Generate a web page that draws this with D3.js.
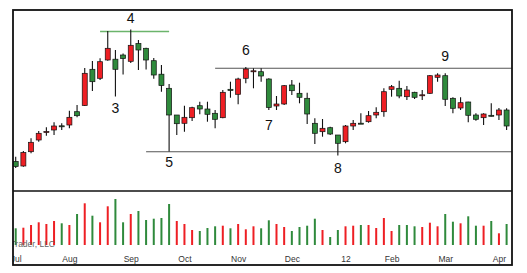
<!DOCTYPE html>
<html><head><meta charset="utf-8">
<script src="https://cdn.jsdelivr.net/npm/d3@7"></script>
<style>body{margin:0;background:#fff}svg{display:block}</style>
</head><body><svg id="c" width="527" height="273"></svg>
<script>
// ---- data (price units arbitrary) ----
const opens  = [28.5,24,38.3,50,58,60,64.2,65,78.3,84.5,120.7,111.7,130,130.8,135,128.7,146.5,141.7,129.3,115.8,101.7,75,66.7,72.3,84.3,81,76.7,72.3,100.7,95.7,111.7,118.8,118.3,111,84,86,105,96.7,91.7,66.7,58.3,62.3,55,48.3,64,66.8,68.3,75,78.3,100.7,101.7,93.3,97.7,94.8,96.7,112.7,114.3,91.7,82,88,75,72.3,74.7,75,80];
const highs  = [33.3,39,51.7,59,62.7,67.7,66.7,79.3,85,122,129,131.7,159,140,136.5,160.5,150,142.3,132,125,106,75,84.3,83.3,88.3,88.3,80,100,108.3,112.3,123,121.7,121.7,111.7,94,105,110,107.3,97.3,71.7,71,63.3,55,65,70,76.7,79,82.7,101.7,105,109.3,104,98.3,100,115,116.7,116.7,92.7,92.7,88.3,76.7,76.7,86.7,82,81.7];
const lows   = [22,23.3,36.7,48.3,54.3,55,60,61.7,72.7,84,99,110,129.3,93.5,115.5,127,120,120.5,111.2,98.3,38.5,55,58.3,69,75.7,68.3,61.7,71.7,92.3,85.7,106.7,101.7,108.3,80,80,85,95,86.7,66,46,53.3,55,34.5,46.7,60,66,67.3,71.7,73.3,93.3,91.7,90,91,90,96,108.3,84,76.7,80,67.8,69.3,65,73.5,70,60];
const closes = [23.5,37.5,47.7,56.7,58.5,64,64,72.7,74.3,116.7,108.3,128.3,141.7,120.7,131.5,144.7,140,130,115,104.5,75,66.3,72.7,82.3,81,75.7,70.7,97.7,99.5,111,121,119.2,114,82.5,86,104.3,99.3,92.7,76,56.7,61.7,56,46.7,64,66.7,66.5,74.3,77.7,98.3,103.3,94,100,92.7,95.2,114.3,115,90.7,81.7,87.3,74.7,70.7,76,74.3,80,64];
const volumes = [16.7,17.3,20,22.7,21,24,21.7,20,31,41.7,29.3,22.7,38.7,46,22.7,31,34,25,26.3,27,41,24,21,15,14,17,18.7,19.3,16.7,21,15.7,18.7,16.7,24.7,21,18,14,18,19.3,26.3,15,8,15,18.7,19.3,20,20,17,27,14,20,20,18.7,18,22.3,18.7,31,23.3,21.7,28.7,19.3,19.3,24,11.7,21];
// volume colour: 1 = red, 0 = green
const volumeRed = [0,1,1,1,1,1,0,1,0,1,0,1,1,0,0,1,0,0,0,0,0,1,1,1,0,0,0,1,0,1,1,1,0,0,1,1,0,0,0,0,1,0,0,1,1,0,1,1,1,1,0,0,0,1,1,1,0,0,1,0,0,1,0,1,0];
const tickIndex  = [0,7,15,22,29,36,43,49,56,63];
const tickLabels = ["Jul","Aug","Sep","Oct","Nov","Dec","12","Feb","Mar","Apr"];
const annotationLabels = ["3","4","5","6","7","8","9"];
const annotationBars   = [13,15,20,30,33,42,56];
const annotationPrices = [82,172,28.3,140,65,21.7,134];
// horizontal levels: [price, startBar]
const levelPrices = [158.5, 38.3, 121.7];
const levelStart  = [11, 17, 26];
const levelEnd    = [20, null, null];

// ---- drawing ----
const svg = d3.select("#c");
const L = 13, R = 512, T = 10, MID = 191, VB = 245, B = 265;
const x = d3.scaleLinear().domain([0, 64]).range([15.7, 506.6]);
const y = d3.scaleLinear().domain([0, 180]).range([190, 10]);
const yv = d3.scaleLinear().domain([0, 55]).range([VB, 190]);
const RED = "#ee1f24", GREEN = "#2f8a3c";
const n = opens.length;
const idx = d3.range(n);

svg.append("defs").append("clipPath").attr("id","clipAll")
  .append("rect").attr("x", L).attr("y", T).attr("width", R - L).attr("height", B - T);

// horizontal levels
const levelColors = ["#6bb46b", "#555", "#555"];
levelPrices.forEach((p, k) => {
  svg.append("line")
    .attr("x1", x(levelStart[k]) ).attr("x2", levelEnd[k] == null ? R : x(levelEnd[k]))
    .attr("y1", y(p)).attr("y2", y(p))
    .attr("stroke", levelColors[k]).attr("stroke-width", k === 0 ? 1.6 : 1.1);
});

// candles
const g = svg.append("g");
g.selectAll("line.w").data(idx).join("line").attr("class","w")
  .attr("x1", i => x(i)).attr("x2", i => x(i))
  .attr("y1", i => y(highs[i])).attr("y2", i => y(lows[i]))
  .attr("stroke", "#111").attr("stroke-width", 1.1);
g.selectAll("rect.b").data(idx).join("rect").attr("class","b")
  .attr("x", i => x(i) - 2.5).attr("width", 5)
  .attr("y", i => y(Math.max(opens[i], closes[i])))
  .attr("height", i => Math.max(1, Math.abs(y(opens[i]) - y(closes[i]))))
  .attr("fill", i => closes[i] >= opens[i] ? RED : GREEN)
  .attr("stroke", "#111").attr("stroke-width", 0.7);

// annotations
svg.selectAll("text.ann").data(annotationLabels).join("text").attr("class","ann")
  .attr("x", (d, k) => x(annotationBars[k]))
  .attr("y", (d, k) => y(annotationPrices[k]))
  .attr("text-anchor", "middle").attr("dominant-baseline", "central")
  .attr("font-family", "Liberation Sans, Arial, sans-serif").attr("font-size", 14)
  .attr("fill", "#111").text(d => d);

// volume bars
svg.selectAll("rect.v").data(idx).join("rect").attr("class","v")
  .attr("x", i => x(i) - 1).attr("width", 2)
  .attr("y", i => yv(volumes[i])).attr("height", i => VB - yv(volumes[i]))
  .attr("fill", i => volumeRed[i] ? RED : GREEN);

// watermark
svg.append("text").attr("clip-path","url(#clipAll)")
  .attr("x", 55).attr("y", 247).attr("text-anchor","end")
  .attr("font-family","Liberation Sans, Arial, sans-serif").attr("font-size", 8.5)
  .attr("fill","#666").text("StockTrader, LLC");

// volume axis
const axisG = svg.append("g").attr("transform", `translate(0,${VB})`).attr("clip-path","url(#clipAll)");
axisG.call(d3.axisBottom(x).tickValues(tickIndex).tickFormat((d, k) => tickLabels[k]).tickSize(8).tickPadding(3));
axisG.select(".domain").attr("stroke","#555").attr("stroke-width",1.5).attr("d", `M${L},0H${R}`);
axisG.selectAll(".tick line").attr("stroke","#555");
axisG.selectAll(".tick text").attr("font-family","Liberation Sans, Arial, sans-serif").attr("font-size", 8.5).attr("fill","#333");

// frame
svg.append("rect").attr("x", L).attr("y", T).attr("width", R - L).attr("height", B - T)
  .attr("fill","none").attr("stroke","#111").attr("stroke-width", 1.8);
svg.append("line").attr("x1", L).attr("x2", R).attr("y1", MID).attr("y2", MID)
  .attr("stroke","#111").attr("stroke-width", 1.6);
</script></body></html>
